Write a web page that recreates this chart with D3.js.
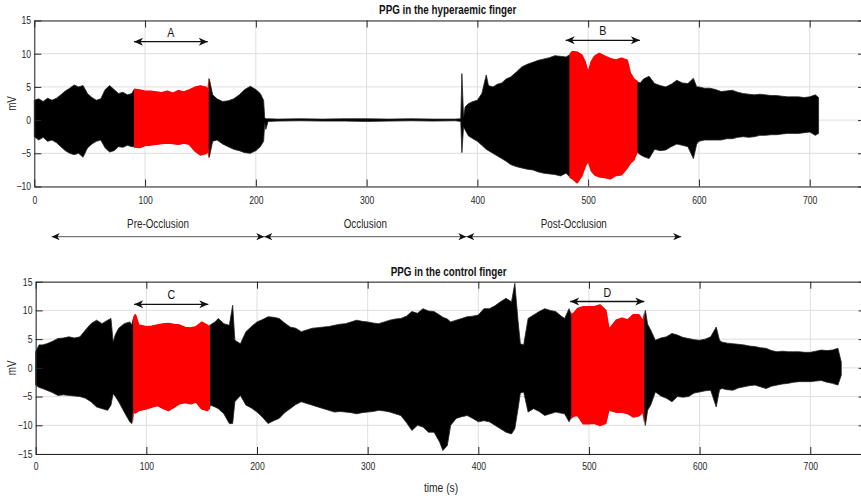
<!doctype html>
<html lang="en">
<head>
<meta charset="utf-8">
<title>PPG hyperaemic vs control finger</title>
<script src="https://d3js.org/d3.v7.min.js"></script>
<style>
body { margin: 0; background: #fff; }
text { font-family: "Liberation Sans", Arial, sans-serif; fill: #262626; }
</style>
</head>
<body>
<script>

// tick values
var xTicks = [0, 100, 200, 300, 400, 500, 600, 700];
var hypYTicks = [-10, -5, 0, 5, 10, 15];
var ctrlYTicks = [-15, -10, -5, 0, 5, 10, 15];

// hyperaemic finger: signal envelope (time s, upper mV, lower mV)
var hypTime = [0, 4, 8, 12, 16, 20, 24, 28, 32, 36, 40, 44, 48, 52, 56, 60, 64, 68, 72, 76, 80, 84, 88,
  90, 95, 100, 105, 110, 115, 120, 125, 130, 135, 140, 145, 150, 155, 157, 158, 161, 165, 170, 175, 180,
  185, 190, 195, 200, 204, 207, 208, 209, 211, 220, 240, 260, 280, 300, 320, 340, 360, 380, 385, 386,
  387.5, 389, 392, 396, 400, 404, 408, 410, 414, 418, 422, 426, 430, 435, 440, 445, 450, 455, 460, 465,
  470, 475, 480, 483, 486, 490, 494, 497, 500, 503, 506, 510, 515, 520, 525, 530, 535, 538, 541, 544,
  547, 550, 555, 560, 565, 570, 575, 580, 585, 590, 595, 598, 600, 605, 610, 615, 620, 625, 630, 635,
  640, 645, 650, 655, 660, 665, 670, 675, 680, 685, 690, 695, 700, 705, 708];
var hypUpper = [3.0, 3.2, 2.8, 3.3, 3.0, 3.3, 3.8, 4.4, 4.8, 5.3, 5.0, 5.2, 4.0, 3.4, 3.0, 3.2, 4.6, 5.2, 4.6, 4.0, 4.2, 3.8, 4.0,
  4.6, 4.5, 4.3, 4.3, 4.2, 4.1, 4.3, 4.0, 4.4, 4.2, 4.5, 4.9, 5.1, 4.9, 4.4, 6.2, 3.8, 3.2, 2.8, 2.9, 3.2,
  3.8, 4.6, 5.1, 4.6, 4.0, 3.0, 0.3, 0.2, 0.2, 0.15, 0.2, 0.15, 0.2, 0.2, 0.15, 0.2, 0.15, 0.15, 0.2, 7.0,
  0.5, 2.0, 2.5, 2.8, 3.0, 4.0, 6.8, 5.2, 5.0, 5.4, 5.6, 6.2, 6.5, 7.2, 8.0, 8.4, 8.7, 9.0, 9.2, 9.4,
  9.7, 9.6, 9.5, 9.8, 10.3, 10.2, 9.8, 8.8, 7.0, 8.8, 9.6, 10.0, 9.6, 9.2, 9.0, 9.3, 9.0, 7.0, 6.2, 5.8,
  5.6, 6.2, 6.6, 5.5, 5.2, 5.0, 5.4, 6.0, 5.6, 5.5, 6.3, 5.0, 5.0, 4.8, 4.8, 4.6, 4.3, 4.4, 4.5, 4.2,
  4.0, 3.9, 3.8, 3.9, 3.8, 3.7, 3.7, 3.6, 3.5, 3.5, 3.5, 3.4, 3.5, 3.8, 3.4];
var hypLower = [-2.5, -3.0, -2.6, -3.2, -3.0, -3.4, -4.0, -4.6, -5.0, -5.2, -5.0, -5.6, -4.2, -3.6, -3.2, -3.0, -4.2, -4.8, -4.6, -4.0, -4.1, -3.8, -4.0,
  -4.0, -4.1, -3.8, -3.7, -3.6, -3.5, -3.4, -3.5, -3.6, -3.4, -3.6, -4.6, -5.2, -5.0, -4.5, -5.6, -3.2, -3.0, -3.6, -4.0, -4.4,
  -4.6, -4.9, -5.0, -4.6, -4.0, -3.2, -0.5, -1.4, -0.2, -0.15, -0.1, -0.15, -0.15, -0.2, -0.15, -0.1, -0.15, -0.1, -0.2, -4.9,
  -1.0, -1.5, -2.4, -2.8, -3.2, -3.8, -4.4, -4.6, -5.0, -5.4, -5.8, -6.2, -6.7, -7.0, -7.2, -7.4, -7.5, -7.8, -8.0, -8.1,
  -8.2, -8.4, -8.0, -8.5, -8.8, -9.4, -8.4, -7.0, -6.0, -7.6, -8.2, -8.5, -8.6, -8.8, -8.3, -8.2, -7.2, -6.4, -6.0, -4.8,
  -5.2, -5.5, -5.8, -4.4, -4.6, -4.5, -4.0, -3.6, -3.8, -4.0, -5.8, -3.6, -3.2, -3.0, -3.0, -3.0, -3.0, -2.8, -2.8, -2.6,
  -2.5, -2.6, -2.5, -2.3, -2.3, -2.2, -2.2, -2.1, -2.0, -2.0, -2.0, -1.9, -1.8, -2.3, -2.0];

// control finger
var ctrlTime = [0, 3, 6, 10, 15, 20, 25, 30, 35, 40, 45, 50, 55, 60, 65, 68, 70, 72, 75, 80, 85, 87,
  88, 90, 93, 100, 105, 110, 115, 120, 125, 130, 135, 140, 145, 150, 155, 157, 158, 162, 165, 170, 175,
  178, 180, 185, 190, 195, 200, 205, 210, 215, 220, 225, 230, 235, 240, 245, 250, 255, 260, 265, 270,
  275, 280, 285, 290, 295, 300, 305, 310, 315, 320, 325, 330, 335, 340, 345, 350, 355, 360, 365, 368,
  372, 375, 380, 385, 390, 395, 400, 405, 410, 415, 420, 425, 430, 433, 436, 438, 441, 445, 450, 455,
  460, 465, 470, 475, 478, 482, 484, 487, 490, 495, 500, 505, 510, 515, 518, 520, 525, 530, 535, 540,
  545, 549, 551, 553, 556, 560, 565, 570, 575, 580, 585, 590, 595, 600, 605, 610, 615, 618, 620, 625,
  630, 635, 640, 645, 650, 655, 660, 665, 670, 675, 680, 685, 690, 695, 700, 705, 710, 715, 720, 725, 728];
var ctrlUpper = [2.8, 4.0, 4.0, 4.2, 4.6, 5.1, 5.2, 5.4, 5.2, 5.4, 6.6, 7.7, 8.3, 7.7, 8.3, 8.6, 4.5, 5.8, 6.9, 7.7, 8.0, 7.5,
  8.5, 9.2, 7.4, 7.1, 7.2, 7.4, 7.6, 7.7, 7.5, 7.4, 7.0, 6.9, 7.1, 7.9, 7.4, 7.0, 7.5, 8.0, 8.6, 7.7, 7.4,
  10.9, 4.8, 4.2, 6.3, 7.2, 8.0, 8.4, 8.9, 8.8, 8.6, 7.8, 7.1, 6.9, 6.3, 6.6, 6.9, 7.0, 7.1, 7.2, 7.4,
  7.6, 7.7, 8.0, 8.3, 8.1, 8.0, 7.8, 7.7, 8.0, 8.3, 8.5, 8.6, 9.0, 9.8, 9.5, 10.3, 9.9, 9.8, 9.2, 8.8,
  8.5, 8.0, 8.3, 8.6, 8.9, 9.0, 9.2, 10.3, 10.3, 10.8, 11.5, 12.1, 11.5, 14.7, 8.0, 4.2, 4.0, 8.6, 9.2, 9.8,
  10.3, 10.0, 9.8, 9.0, 8.6, 10.3, 9.2, 9.6, 10.3, 10.6, 10.6, 10.6, 10.9, 10.0, 6.6, 7.1, 8.3, 8.6, 8.3, 9.2,
  9.2, 8.0, 10.0, 7.6, 6.5, 4.8, 5.2, 5.4, 6.0, 5.7, 5.3, 5.1, 4.9, 4.8, 5.0, 5.4, 7.1, 4.8, 4.5, 4.3,
  4.2, 4.1, 4.0, 3.8, 3.7, 3.5, 3.4, 3.0, 2.8, 2.9, 2.8, 2.8, 2.8, 2.7, 2.7, 2.9, 3.1, 3.0, 3.1, 3.4, 1.0];
var ctrlLower = [-3.0, -3.4, -3.6, -3.9, -4.3, -4.8, -4.7, -4.8, -4.9, -5.0, -5.3, -5.9, -6.8, -7.1, -7.4, -6.5, -4.5, -5.0, -5.9, -7.7, -9.4, -9.7,
  -7.6, -7.8, -7.4, -7.1, -6.8, -6.5, -7.0, -7.4, -6.8, -6.2, -6.0, -6.2, -5.9, -7.1, -7.4, -7.0, -6.5, -6.8, -7.1, -8.0, -9.7,
  -9.7, -5.9, -4.8, -6.5, -7.0, -7.7, -8.6, -9.7, -9.2, -8.8, -7.8, -7.1, -6.4, -5.9, -6.2, -6.5, -6.8, -7.1, -7.4, -7.7,
  -7.6, -7.7, -7.8, -8.0, -7.8, -7.7, -7.6, -7.4, -7.5, -7.7, -8.0, -8.3, -9.5, -10.9, -10.0, -10.3, -11.2, -11.2, -12.9, -14.4,
  -13.5, -10.0, -8.8, -8.5, -8.3, -8.8, -9.4, -9.2, -9.4, -10.0, -10.6, -11.2, -11.5, -10.6, -7.0, -4.4, -4.2, -7.7, -7.1, -7.6,
  -8.3, -8.0, -7.7, -7.9, -8.0, -9.4, -8.6, -8.3, -8.3, -9.7, -9.7, -9.6, -10.0, -9.6, -7.1, -7.4, -7.7, -7.7, -7.9, -8.5,
  -8.3, -7.6, -10.0, -7.4, -6.4, -4.2, -4.9, -5.3, -5.9, -5.0, -5.1, -5.0, -4.4, -4.2, -4.0, -3.9, -6.8, -3.8, -3.6, -3.8,
  -3.9, -3.5, -3.3, -3.1, -3.0, -3.3, -3.6, -3.2, -3.0, -2.8, -2.7, -2.5, -2.4, -2.4, -2.4, -2.3, -2.2, -2.5, -2.7, -3.0, -1.3];

// red (analysed) windows and their labelled arrows
var hypRedStart = [90, 483];
var hypRedEnd = [157.5, 544.5];
var hypArrowLabel = ["A", "B"];
var hypArrowStart = [90, 479.7];
var hypArrowEnd = [156.6, 546.7];

var ctrlRedStart = [88, 484];
var ctrlRedEnd = [157.5, 550];
var ctrlArrowLabel = ["C", "D"];
var ctrlArrowStart = [89, 483];
var ctrlArrowEnd = [156, 550];

// phases of the protocol
var phaseNames = ["Pre-Occlusion", "Occlusion", "Post-Occlusion"];
var phaseBounds = [15.7, 207.6, 390, 584];

var W = 861, H = 500;
var NARROW = 0.82;   // no narrow font installed, squeeze text horizontally instead

var svg = d3.select("body").append("svg")
  .attr("width", W)
  .attr("height", H)
  .style("display", "block");

// text helper, drawn narrow like the original figure
function label(parent, x, y, str, size, extra) {
  var t = parent.append("text")
    .attr("transform", "translate(" + x + "," + y + ")" + (extra || "") + " scale(" + NARROW + ",1)")
    .attr("text-anchor", "middle")
    .attr("font-size", size)
    .text(str);
  return t;
}

var defs = svg.append("defs");
function addHead(id, w, h, color) {
  defs.append("marker")
    .attr("id", id)
    .attr("viewBox", "0 0 10 10")
    .attr("refX", 10)
    .attr("refY", 5)
    .attr("markerUnits", "userSpaceOnUse")
    .attr("markerWidth", w)
    .attr("markerHeight", h)
    .attr("orient", "auto-start-reverse")
    .append("path")
    .attr("d", "M0,0.5 L10,5 L0,9.5 L2.8,5 Z")
    .attr("fill", color);
}
addHead("headBig", 11, 9, "#111");
addHead("headSmall", 10, 8, "#111");

function drawPanel(p) {
  var x = d3.scaleLinear().domain([0, 750]).range([p.left, p.right]);
  var y = d3.scaleLinear().domain(p.yDomain).range([p.bottom, p.top]);
  var g = svg.append("g");

  // grid
  g.selectAll(".vg").data(xTicks).enter().append("line")
    .attr("x1", d => x(d)).attr("x2", d => x(d))
    .attr("y1", p.top).attr("y2", p.bottom)
    .attr("stroke", "#dedede").attr("stroke-width", 1);
  g.selectAll(".hg").data(p.yTicks).enter().append("line")
    .attr("x1", p.left).attr("x2", p.right)
    .attr("y1", d => y(d)).attr("y2", d => y(d))
    .attr("stroke", "#dedede").attr("stroke-width", 1);

  // signal envelope
  var pts = p.time.map((t, i) => ({t: t, hi: p.upper[i], lo: p.lower[i]}));
  var area = d3.area()
    .x(d => x(d.t))
    .y0(d => y(d.lo))
    .y1(d => y(d.hi));

  g.append("path").datum(pts)
    .attr("d", area)
    .attr("fill", "#000")
    .attr("stroke", "#222")
    .attr("stroke-width", 0.8)
    .attr("stroke-linejoin", "round");

  // red windows: same signal clipped to the window
  p.redStart.forEach(function(s, i) {
    var id = p.name + "clip" + i;
    defs.append("clipPath").attr("id", id)
      .append("rect")
      .attr("x", x(s)).attr("width", x(p.redEnd[i]) - x(s))
      .attr("y", p.top).attr("height", p.bottom - p.top);
    g.append("path").datum(pts)
      .attr("d", area)
      .attr("clip-path", "url(#" + id + ")")
      .attr("fill", "#ff0000")
      .attr("stroke", "#ff0000")
      .attr("stroke-width", 2)
      .attr("stroke-linejoin", "round");
  });

  // axes, ticks pointing inward like matlab
  g.append("g")
    .attr("transform", "translate(0," + p.bottom + ")")
    .attr("color", "#262626")
    .call(d3.axisBottom(x).tickValues(xTicks).tickSize(-7).tickSizeOuter(0).tickPadding(p.xPad));
  g.append("g")
    .attr("transform", "translate(0," + p.top + ")")
    .attr("color", "#262626")
    .call(d3.axisTop(x).tickValues(xTicks).tickSize(-7).tickSizeOuter(0).tickFormat(""));
  g.append("g")
    .attr("transform", "translate(" + p.left + ",0)")
    .attr("color", "#262626")
    .call(d3.axisLeft(y).tickValues(p.yTicks).tickSize(-7).tickSizeOuter(0).tickPadding(4));
  g.append("g")
    .attr("transform", "translate(" + p.right + ",0)")
    .attr("color", "#262626")
    .call(d3.axisRight(y).tickValues(p.yTicks).tickSize(-7).tickSizeOuter(0).tickFormat(""));
  g.selectAll(".tick text")
    .attr("font-size", 10.5)
    .attr("transform", "scale(" + NARROW + ",1)");

  // title
  label(g, (p.left + p.right) / 2 - 2, p.titleY, p.title, 12, "")
    .attr("font-weight", "bold")
    .style("fill", "#111");

  // y label
  label(g, 16, (p.top + p.bottom) / 2, "mV", 12, " rotate(-90)");

  // labelled double arrows over the red windows
  p.arrowStart.forEach(function(s, i) {
    var e = p.arrowEnd[i];
    g.append("line")
      .attr("x1", x(s)).attr("x2", x(e))
      .attr("y1", p.arrowY[i]).attr("y2", p.arrowY[i])
      .attr("stroke", "#111").attr("stroke-width", 1.3)
      .attr("marker-start", "url(#headBig)")
      .attr("marker-end", "url(#headBig)");
    label(g, x((s + e) / 2), p.arrowY[i] - 5, p.arrowLabel[i], 13, "")
      .style("fill", "#111");
  });

  return x;
}

var xHyp = drawPanel({
  name: "hyp", title: "PPG in the hyperaemic finger",
  left: 34.3, right: 865.1, top: 20.5, bottom: 186.5,
  yDomain: [-10, 15], yTicks: hypYTicks, xPad: 10, titleY: 14,
  time: hypTime, upper: hypUpper, lower: hypLower,
  redStart: hypRedStart, redEnd: hypRedEnd,
  arrowStart: hypArrowStart, arrowEnd: hypArrowEnd, arrowLabel: hypArrowLabel,
  arrowY: [41.7, 40.3]
});

drawPanel({
  name: "ctrl", title: "PPG in the control finger",
  left: 35.7, right: 865.6, top: 281.7, bottom: 454,
  yDomain: [-15, 15], yTicks: ctrlYTicks, xPad: 9, titleY: 276,
  time: ctrlTime, upper: ctrlUpper, lower: ctrlLower,
  redStart: ctrlRedStart, redEnd: ctrlRedEnd,
  arrowStart: ctrlArrowStart, arrowEnd: ctrlArrowEnd, arrowLabel: ctrlArrowLabel,
  arrowY: [304.3, 301.5]
});

// phase arrows between the panels
var phaseY = 236.7;
phaseNames.forEach(function(name, i) {
  var a = phaseBounds[i], b = phaseBounds[i + 1];
  svg.append("line")
    .attr("x1", xHyp(a)).attr("x2", xHyp(b))
    .attr("y1", phaseY).attr("y2", phaseY)
    .attr("stroke", "#555").attr("stroke-width", 1)
    .attr("marker-start", "url(#headSmall)")
    .attr("marker-end", "url(#headSmall)");
  label(svg, xHyp((a + b) / 2), phaseY - 9, name, 12, "");
});

// x label
label(svg, 441, 492, "time (s)", 12.5, "");

</script>
</body>
</html>
